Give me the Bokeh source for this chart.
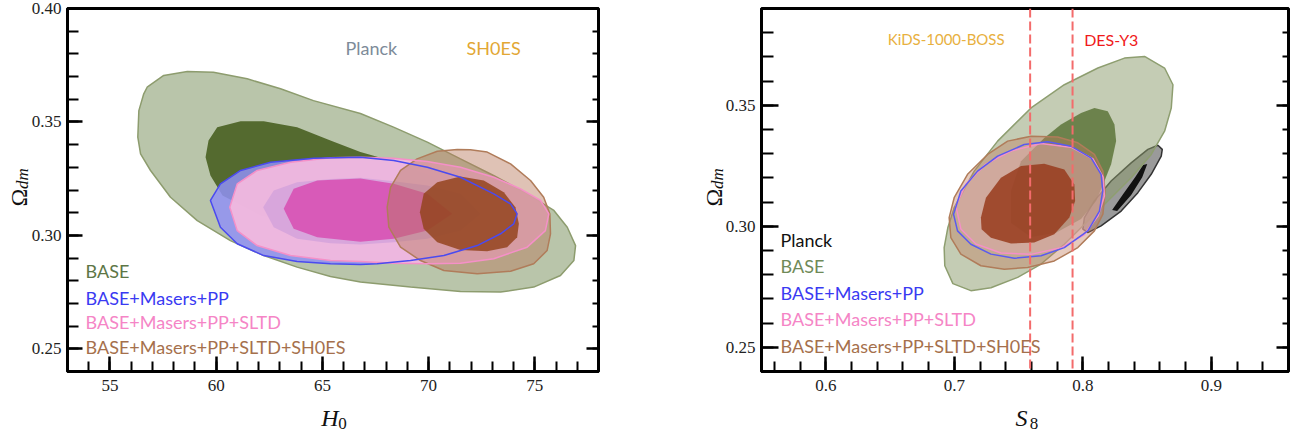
import math
from bokeh.plotting import figure
from bokeh.layouts import row
from bokeh.models import (Range1d, SingleIntervalTicker, LinearAxis,
                          PrintfTickFormatter, CustomJSTickFormatter, Label, Span)
from bokeh.core.properties import value
from bokeh.embed import file_html
from bokeh.resources import INLINE

# ---------------- data ----------------
# Left panel: H0 vs Omega_dm contours
L_base2_h0 = [56.31, 56.44, 56.91, 57.85, 59.11, 60.67, 62.24, 63.81, 65.38, 66.79, 69.15, 71.50, 73.39, 74.95, 76.21,
              76.84, 76.92, 76.53, 75.90, 74.64, 73.06, 71.50, 69.94, 68.35, 66.79, 64.58, 63.03, 61.46, 59.87, 58.64,
              57.53, 56.75, 56.59, 56.36]
L_base2_om = [0.3433, 0.3359, 0.3286, 0.3168, 0.3065, 0.2977, 0.2911, 0.2860, 0.2819, 0.2794, 0.2772, 0.2753, 0.2750,
              0.2772, 0.2823, 0.2889, 0.2955, 0.3036, 0.3110, 0.3183, 0.3264, 0.3337, 0.3411, 0.3477, 0.3537, 0.3594,
              0.3646, 0.3690, 0.3719, 0.3722, 0.3705, 0.3653, 0.3624, 0.3550]
L_base1_h0 = [59.50, 59.73, 60.30, 62.09, 65.38, 68.68, 71.03, 71.97, 71.50, 70.09, 68.20, 66.79, 65.38, 63.81, 62.24,
              61.15, 60.05, 59.64]
L_base1_om = [0.3344, 0.3264, 0.3176, 0.3088, 0.3013, 0.2986, 0.3013, 0.3088, 0.3176, 0.3264, 0.3330, 0.3367, 0.3418,
              0.3477, 0.3503, 0.3503, 0.3477, 0.3418]
L_bmp2_h0 = [59.73, 60.20, 60.99, 62.24, 63.81, 65.38, 66.79, 67.58, 69.15, 70.72, 72.29, 73.39, 74.01, 74.17, 73.86,
             73.07, 71.50, 69.94, 68.36, 66.79, 64.60, 62.56, 61.15, 60.20]
L_bmp2_om = [0.3154, 0.3036, 0.2963, 0.2911, 0.2885, 0.2875, 0.2872, 0.2875, 0.2889, 0.2911, 0.2955, 0.3007, 0.3051,
             0.3095, 0.3139, 0.3183, 0.3256, 0.3300, 0.3330, 0.3344, 0.3340, 0.3322, 0.3286, 0.3227]
L_bmp1_h0 = [62.21, 62.71, 63.81, 65.38, 66.79, 68.36, 69.94, 71.50, 72.44, 71.50, 69.94, 68.36, 66.79, 65.38, 63.81,
             62.71]
L_bmp1_om = [0.3124, 0.3036, 0.2985, 0.2965, 0.2960, 0.2970, 0.2985, 0.3021, 0.3095, 0.3183, 0.3220, 0.3239, 0.3254,
             0.3249, 0.3234, 0.3198]
L_sltd2_h0 = [60.64, 60.99, 61.93, 63.50, 65.38, 66.79, 68.36, 69.94, 71.50, 73.07, 74.64, 75.50, 75.66, 75.27, 74.33,
              73.07, 71.50, 69.94, 68.36, 66.79, 65.38, 63.50, 61.93, 60.99]
L_sltd2_om = [0.3124, 0.3021, 0.2955, 0.2911, 0.2889, 0.2885, 0.2877, 0.2875, 0.2877, 0.2897, 0.2948, 0.3021, 0.3095,
              0.3154, 0.3205, 0.3256, 0.3300, 0.3326, 0.3340, 0.3344, 0.3342, 0.3322, 0.3286, 0.3227]
L_sltd1_h0 = [63.18, 63.65, 64.76, 66.79, 68.36, 69.94, 71.11, 69.94, 68.36, 66.79, 64.76, 63.65]
L_sltd1_om = [0.3117, 0.3029, 0.2992, 0.2972, 0.2985, 0.3021, 0.3095, 0.3183, 0.3227, 0.3251, 0.3242, 0.3205]
L_sh2_h0 = [71.35, 71.97, 72.76, 73.86, 74.80, 75.42, 75.71, 75.74, 75.58, 74.95, 73.86, 72.29, 70.72, 69.62, 68.68,
            68.13, 68.05, 68.21, 68.68, 69.46, 70.41]
L_sh2_om = [0.3378, 0.3377, 0.3367, 0.3315, 0.3242, 0.3168, 0.3095, 0.3007, 0.2933, 0.2875, 0.2842, 0.2831, 0.2845,
            0.2889, 0.2948, 0.3036, 0.3124, 0.3212, 0.3286, 0.3337, 0.3371]
L_sh1_h0 = [69.59, 69.77, 70.41, 71.50, 72.60, 73.54, 74.09, 74.25, 74.17, 73.70, 72.76, 71.50, 70.41, 69.77]
L_sh1_om = [0.3102, 0.3183, 0.3234, 0.3259, 0.3242, 0.3190, 0.3124, 0.3051, 0.2992, 0.2948, 0.2930, 0.2936, 0.2970,
            0.3029]

# Right panel: S8 vs Omega_dm contours
R_base2_s8 = [0.8480, 0.8636, 0.8701, 0.8688, 0.8636, 0.8532, 0.8376, 0.8220, 0.8039, 0.7856, 0.7675, 0.7493, 0.7285,
              0.7129, 0.6989, 0.6926, 0.6921, 0.6950, 0.6999, 0.7155, 0.7337, 0.7597, 0.7856, 0.8117, 0.8324]
R_base2_om = [0.3702, 0.3654, 0.3585, 0.3489, 0.3393, 0.3297, 0.3201, 0.3118, 0.3022, 0.2926, 0.2844, 0.2789, 0.2746,
              0.2734, 0.2763, 0.2837, 0.2912, 0.2995, 0.3077, 0.3228, 0.3352, 0.3489, 0.3585, 0.3654, 0.3695]
R_base1_s8 = [0.8090, 0.8194, 0.8246, 0.8259, 0.8220, 0.8168, 0.8103, 0.7986, 0.7792, 0.7597, 0.7441, 0.7441, 0.7519,
              0.7700, 0.7830, 0.7986]
R_base1_om = [0.3489, 0.3475, 0.3421, 0.3352, 0.3256, 0.3187, 0.3105, 0.3030, 0.2973, 0.2956, 0.3014, 0.3146, 0.3269,
              0.3365, 0.3421, 0.3468]
R_planck2_s8 = [0.8584, 0.8618, 0.8610, 0.8532, 0.8428, 0.8298, 0.8142, 0.8039, 0.8000, 0.8012, 0.8090, 0.8220,
                0.8376, 0.8506]
R_planck2_om = [0.3335, 0.3318, 0.3290, 0.3215, 0.3139, 0.3063, 0.3002, 0.2974, 0.2988, 0.3036, 0.3105, 0.3187,
                0.3262, 0.3318]
R_planck1_s8 = [0.8501, 0.8462, 0.8376, 0.8267, 0.8228, 0.8314, 0.8407, 0.8469]
R_planck1_om = [0.3257, 0.3203, 0.3129, 0.3063, 0.3067, 0.3133, 0.3203, 0.3253]
R_bmp2_s8 = [0.6994, 0.7051, 0.7181, 0.7337, 0.7544, 0.7727, 0.7908, 0.8064, 0.8142, 0.8155, 0.8129, 0.8039, 0.7856,
             0.7675, 0.7467, 0.7285, 0.7129, 0.7025]
R_bmp2_om = [0.3050, 0.3146, 0.3228, 0.3290, 0.3338, 0.3349, 0.3331, 0.3283, 0.3215, 0.3146, 0.3063, 0.2981, 0.2912,
             0.2878, 0.2868, 0.2885, 0.2926, 0.2981]
R_sltd2_s8 = [0.7012, 0.7090, 0.7246, 0.7441, 0.7675, 0.7908, 0.8080, 0.8158, 0.8168, 0.8119, 0.8010, 0.7831, 0.7597,
              0.7363, 0.7168, 0.7051]
R_sltd2_om = [0.3084, 0.3175, 0.3257, 0.3311, 0.3342, 0.3327, 0.3278, 0.3203, 0.3125, 0.3043, 0.2965, 0.2911, 0.2884,
              0.2890, 0.2927, 0.2989]
R_sh2_s8 = [0.7597, 0.7805, 0.7961, 0.8090, 0.8156, 0.8173, 0.8156, 0.8090, 0.7961, 0.7778, 0.7571, 0.7389, 0.7207,
            0.7051, 0.6973, 0.6960, 0.6999, 0.7103, 0.7259, 0.7415]
R_sh2_om = [0.3372, 0.3369, 0.3345, 0.3297, 0.3228, 0.3146, 0.3050, 0.2981, 0.2912, 0.2857, 0.2830, 0.2823, 0.2837,
            0.2885, 0.2953, 0.3036, 0.3118, 0.3215, 0.3297, 0.3352]
R_sh1_s8 = [0.7207, 0.7246, 0.7363, 0.7519, 0.7700, 0.7856, 0.7934, 0.7940, 0.7895, 0.7778, 0.7622, 0.7441, 0.7285,
            0.7212]
R_sh1_om = [0.3036, 0.3118, 0.3201, 0.3249, 0.3258, 0.3235, 0.3173, 0.3105, 0.3036, 0.2967, 0.2933, 0.2929, 0.2953,
            0.2988]

S8_KIDS = 0.759
S8_DES = 0.792

LEFT_LEGEND = ["BASE", "BASE+Masers+PP", "BASE+Masers+PP+SLTD", "BASE+Masers+PP+SLTD+SH0ES"]
RIGHT_LEGEND = ["Planck", "BASE", "BASE+Masers+PP", "BASE+Masers+PP+SLTD", "BASE+Masers+PP+SLTD+SH0ES"]

# ---------------- styling ----------------
SERIF = "Liberation Serif"
SANS = "Lato"
C_BASE_TXT = "#5d7646"
C_BLUE_TXT = "#3a3af2"
C_PINK_TXT = "#f585c6"
C_BROWN_TXT = "#a5704c"


def make_fig(xr, yr, xint, yint, xfmt, yfmt, bl, br, ytick_major, ytick_minor):
    p = figure(width=650, height=439, x_range=Range1d(*xr), y_range=Range1d(*yr),
               min_border_left=bl, min_border_right=br, min_border_top=8, min_border_bottom=68,
               output_backend="svg", toolbar_location=None)
    p.grid.visible = False
    p.outline_line_color = "black"
    p.outline_line_width = 3
    p.background_fill_color = "white"
    p.border_fill_color = "white"
    p.xaxis.ticker = SingleIntervalTicker(interval=xint, num_minor_ticks=5)
    p.yaxis.ticker = SingleIntervalTicker(interval=yint, num_minor_ticks=5)
    p.xaxis.formatter = PrintfTickFormatter(format=xfmt)
    p.yaxis.formatter = PrintfTickFormatter(format=yfmt)
    for ax in (p.xaxis, p.yaxis):
        ax.axis_line_width = 3
        ax.axis_line_color = "black"
        ax.major_tick_out = 0
        ax.minor_tick_out = 0
        ax.major_tick_line_width = 2.5
        ax.minor_tick_line_width = 2
        ax.major_label_text_font = SERIF
        ax.major_label_text_font_size = "17px"
        ax.major_label_text_color = "#222222"
    p.xaxis.major_tick_in = 15
    p.xaxis.minor_tick_in = 10
    p.yaxis.major_tick_in = ytick_major
    p.yaxis.minor_tick_in = ytick_minor
    p.xaxis.major_label_standoff = 8
    p.yaxis.major_label_standoff = 6
    ra = LinearAxis(ticker=SingleIntervalTicker(interval=yint, num_minor_ticks=5),
                    formatter=CustomJSTickFormatter(code="return ''"), major_label_standoff=0,
                    major_tick_in=12, major_tick_out=0, minor_tick_in=6, minor_tick_out=0,
                    major_tick_line_width=2.5, minor_tick_line_width=2, axis_line_color=None)
    p.add_layout(ra, "right")
    return p


def axis_titles(p, xr, yr, main_x, sub_x, xoff, ylab_off):
    # anchored at the lower-left corner of the frame, shifted in pixels
    x0 = [xr[0] + (xr[1] - xr[0]) * 1e-6]
    y0 = [yr[0] + (yr[1] - yr[0]) * 1e-6]
    common = dict(text_align="center", text_baseline="middle", text_color="#111111", level="overlay")
    p.text(x=x0, y=y0, text=[main_x], x_offset=xoff, y_offset=47, text_font=value(SERIF),
           text_font_style="italic", text_font_size="24px", **common)
    p.text(x=x0, y=y0, text=[sub_x], x_offset=xoff + 12.5, y_offset=52, text_font=value(SERIF),
           text_font_size="17px", **common)
    p.text(x=x0, y=y0, text=["Ω"], x_offset=ylab_off, y_offset=-174, angle=math.pi / 2,
           text_font=value(SERIF), text_font_size="24px", **common)
    p.text(x=x0, y=y0, text=["dm"], x_offset=ylab_off + 4, y_offset=-193, angle=math.pi / 2,
           text_font=value(SERIF), text_font_style="italic", text_font_size="17px", **common)


# ---------------- left panel ----------------
XR1, YR1 = (53, 78), (0.24, 0.40)
p1 = make_fig(XR1, YR1, 5, 0.05, "%d", "%.2f", 67, 52, 15, 11)
p1.patch(L_base2_h0, L_base2_om, fill_color="#b9c5aa", line_color="#8d9c6e", line_width=1.5)
p1.patch(L_base1_h0, L_base1_om, fill_color="#546a2f", line_color=None)
p1.patch(L_bmp2_h0, L_bmp2_om, fill_color="#9090f4", fill_alpha=0.85, line_color=None)
p1.patch(L_sltd2_h0, L_sltd2_om, fill_color="#f0b8de", fill_alpha=0.97, line_color=None)
p1.patch(L_bmp1_h0, L_bmp1_om, fill_color="#d8a6dc", line_color=None)
p1.patch(L_sltd1_h0, L_sltd1_om, fill_color="#d85ab8", line_color=None)
p1.patch(L_sh2_h0, L_sh2_om, fill_color="#b8785a", fill_alpha=0.45, line_color="#b07c5a", line_width=1.5)
p1.patch(L_sh1_h0, L_sh1_om, fill_color="#94441f", fill_alpha=0.85, line_color=None)
p1.patch(L_sltd2_h0, L_sltd2_om, fill_color=None, line_color="#f590c8", line_width=1.5)
p1.patch(L_bmp2_h0, L_bmp2_om, fill_color=None, line_color="#4a4af0", line_width=1.5)

p1.add_layout(Label(x=66.09, y=0.3824, text="Planck", text_font=SANS, text_font_size="18px",
                    text_color="#7d8b99", text_baseline="middle"))
p1.add_layout(Label(x=71.79, y=0.3824, text="SH0ES", text_font=SANS, text_font_size="18px",
                    text_color="#e2a734", text_baseline="middle"))
for txt, yy, col in zip(LEFT_LEGEND, [0.2841, 0.2726, 0.2620, 0.2510],
                        [C_BASE_TXT, C_BLUE_TXT, C_PINK_TXT, C_BROWN_TXT]):
    p1.add_layout(Label(x=53.85, y=yy, text=txt, text_font=SANS, text_font_size="18px",
                        text_color=col, text_baseline="middle"))
axis_titles(p1, XR1, YR1, "H", "0", 262.5, -49)

# ---------------- right panel ----------------
XR2, YR2 = (0.55, 0.96), (0.24, 0.39)
p2 = make_fig(XR2, YR2, 0.1, 0.05, "%.1f", "%.2f", 111, 12, 17, 12)
p2.patch(R_planck2_s8, R_planck2_om, fill_color="#9a9a9a", line_color="#333333", line_width=1.5)
p2.patch(R_planck1_s8, R_planck1_om, fill_color="#111111", line_color=None)
p2.patch(R_base2_s8, R_base2_om, fill_color="#8a9a6a", fill_alpha=0.5, line_color="#8e9e70", line_width=1.5)
p2.patch(R_base1_s8, R_base1_om, fill_color="#4f6a2a", fill_alpha=0.75, line_color=None)
p2.patch(R_sltd2_s8, R_sltd2_om, fill_color="#f2c4e0", fill_alpha=0.5, line_color=None)
p2.patch(R_sh2_s8, R_sh2_om, fill_color="#c07a5a", fill_alpha=0.4, line_color="#b07c5a", line_width=1.5)
p2.patch(R_sh1_s8, R_sh1_om, fill_color="#983e20", fill_alpha=0.88, line_color=None)
p2.patch(R_sltd2_s8, R_sltd2_om, fill_color=None, line_color="#f590c8", line_width=1.5)
p2.patch(R_bmp2_s8, R_bmp2_om, fill_color=None, line_color="#5a5af0", line_width=1.5)

for loc in (S8_KIDS, S8_DES):
    p2.add_layout(Span(location=loc, dimension="height", line_color="#f36b6b",
                       line_width=2, line_dash="9 4"))

p2.add_layout(Label(x=0.6482, y=0.3772, text="KiDS-1000-BOSS", text_font=SANS, text_font_size="15px",
                    text_color="#e8b03e", text_baseline="middle"))
p2.add_layout(Label(x=0.801, y=0.3772, text="DES-Y3", text_font=SANS, text_font_size="16px",
                    text_color="#f01a1a", text_baseline="middle"))
for txt, yy, col in zip(RIGHT_LEGEND, [0.2944, 0.2837, 0.2726, 0.2618, 0.2507],
                        ["#111111", "#6f8a58", C_BLUE_TXT, C_PINK_TXT, C_BROWN_TXT]):
    p2.add_layout(Label(x=0.5648, y=yy, text=txt, text_font=SANS, text_font_size="18px",
                        text_color=col, text_baseline="middle"))
axis_titles(p2, XR2, YR2, "S", "8", 260, -48)

layout = row(p1, p2)
open("out.html", "w").write(file_html(layout, INLINE))
